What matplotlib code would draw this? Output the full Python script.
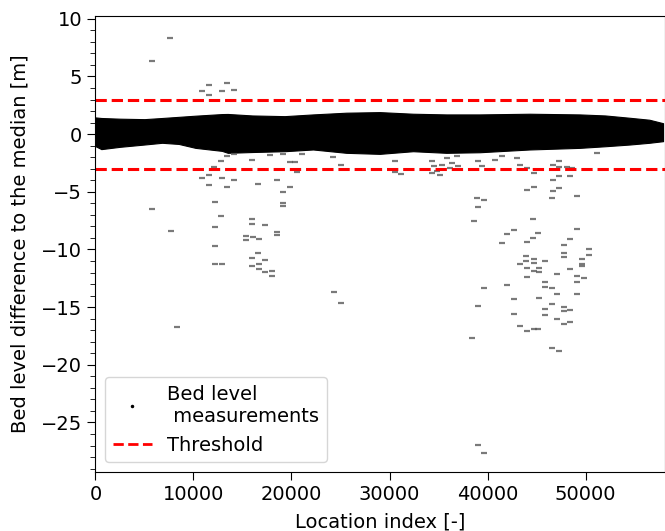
import numpy as np
import matplotlib
matplotlib.use("Agg")
import matplotlib.pyplot as plt
from matplotlib.lines import Line2D

band_x = [0, 600, 2500, 5000, 6800, 8500, 10200, 12900, 13500, 16000, 19300,
          22200, 25600, 29000, 32400, 35800, 39200, 44300, 49400, 52000,
          54500, 56500, 57900]
band_hi = [1.45, 1.40, 1.34, 1.30, 1.40, 1.50, 1.60, 1.74, 1.75, 1.62, 1.56,
           1.71, 1.86, 1.91, 1.77, 1.71, 1.71, 1.77, 1.71, 1.62,
           1.42, 1.25, 0.95]
band_lo = [-1.04, -1.30, -1.10, -0.90, -0.75, -0.85, -1.19, -1.45, -1.62, -1.55, -1.48,
           -1.33, -1.62, -1.71, -1.48, -1.62, -1.57, -1.33, -1.19, -1.05,
           -0.90, -0.75, -0.61]

# scattered outliers
out_x = [7612, 5745, 11590, 13460, 10910, 11590, 12880, 14140,
         12820, 13460, 14140, 16010, 17820, 19170, 19860, 20400, 21110, 20540,
         24280, 25030, 12100, 10910, 11590, 12880, 14140, 11590, 13460, 16630,
         18560, 19170, 19860, 19170, 19170, 12200, 5745, 12820, 16010, 16010,
         17310, 12200, 18560, 18560, 7680, 15330, 15330, 16110, 16690, 12200,
         16630, 16010, 17310, 12200, 12950, 16010, 16690, 16690, 17310, 17990,
         17990, 24350, 25030, 8290,
         30570, 30570, 31150, 34320, 34490, 34830, 35340, 35850, 36360, 36180,
         36870, 35160, 34320, 37030, 39070, 39420, 40780, 41460, 42990, 43330,
         44010, 44690, 46660, 47310, 47240, 48100, 48600, 47310, 48430, 51150,
         46720, 44690, 44010, 47310, 46720, 49110, 46560, 38970, 39650, 39070,
         38630, 44590, 42710, 42030, 45190, 44590, 44010, 41460, 49110, 48430,
         47820, 50370, 47820, 47820, 50370, 49680, 43910, 43910, 44690, 45880,
         44690, 43330, 49680, 49680, 44010, 45270, 45270, 44690, 48430, 47130,
         44010, 49110, 49790, 49110, 45880, 45880, 46560, 42030, 39650, 47130,
         49110, 46560, 42710, 45270, 39070, 47820, 47820, 48430, 45880, 45880,
         42710, 47130, 47820, 48430, 43330, 44010, 44690, 45190, 38400, 46560,
         47310, 39070, 39650]
out_y = [8.32, 6.35, 4.26, 4.46, 3.71, 3.36, 3.77, 3.83,
         -2.35, -1.91, -1.70, -2.23, -1.83, -1.70, -2.41, -2.40, -1.70, -3.28,
         -2.00, -2.64, -2.84, -3.83, -3.51, -3.83, -3.97, -4.38, -4.58, -4.35,
         -3.97, -5.01, -4.58, -5.97, -6.20, -5.91, -6.49, -7.10, -7.36, -7.80,
         -7.91, -8.03, -8.49, -8.72, -8.43, -8.87, -9.19, -8.96, -9.07, -9.71,
         -10.32, -10.76, -10.90, -11.22, -11.28, -11.42, -11.22, -11.68, -11.97, -11.86,
         -12.32, -13.71, -14.67, -16.72,
         -2.29, -3.28, -3.42, -2.35, -2.78, -3.22, -2.64, -2.06, -2.50, -2.93,
         -1.91, -3.50, -3.36, -2.78, -2.29, -2.78, -2.26, -1.91, -2.06, -2.64,
         -2.93, -3.36, -2.70, -2.29, -2.87, -2.87, -2.90, -3.59, -3.65, -1.62,
         -4.00, -4.58, -4.87, -4.67, -4.96, -5.36, -5.57, -5.54, -5.68, -6.29,
         -7.51, -7.36, -8.32, -8.70, -8.58, -9.01, -9.36, -9.48, -8.26, -9.07,
         -9.65, -9.94, -10.32, -10.61, -10.52, -10.84, -10.55, -10.96, -10.84, -10.96,
         -11.16, -11.28, -11.22, -11.45, -11.59, -11.57, -11.91, -11.88, -11.71, -12.15,
         -12.43, -12.32, -12.49, -12.81, -12.78, -13.28, -13.30, -13.07, -13.30, -13.85,
         -13.85, -14.72, -14.29, -14.20, -14.90, -14.96, -15.33, -15.25, -15.19, -15.68,
         -15.59, -16.03, -16.49, -16.26, -16.64, -17.10, -16.93, -16.93, -17.71, -18.58,
         -18.78, -26.98, -27.68]

threshold = 3

plt.rcParams['font.size'] = 14
plt.rcParams['xtick.major.size'] = 6
plt.rcParams['ytick.major.size'] = 6
plt.rcParams['ytick.minor.size'] = 3.5
fig = plt.figure(figsize=(6.65, 5.31), dpi=100)
ax = fig.add_axes([0.1435, 0.111, 0.8565, 0.859])

ax.fill_between(band_x, band_lo, band_hi, color="k", lw=0.8, edgecolor="k")
ax.plot(out_x, out_y, ls="none", marker="_", ms=5, mew=1.6, color="0.35", alpha=0.8)
ax.axhline(threshold, color="r", ls="--", lw=2.2)
ax.axhline(-threshold, color="r", ls="--", lw=2.2)

ax.set_xlim(0, 58100)
ax.set_ylim(-29.3, 10.25)
ax.set_yticks(np.arange(-25, 11, 5))
ax.set_yticks(np.arange(-29, 11, 1), minor=True)
ax.set_xticks(np.arange(0, 50001, 10000))
ax.set_xlabel("Location index [-]", labelpad=6)
ax.set_ylabel("Bed level difference to the median [m]", labelpad=8)

handles = [Line2D([], [], ls="none", marker=".", ms=3, color="k"),
           Line2D([], [], ls="--", lw=2, color="r")]
ax.legend(handles, ["Bed level\n measurements", "Threshold"], loc="lower left")

fig.savefig("out.png", dpi=100)
